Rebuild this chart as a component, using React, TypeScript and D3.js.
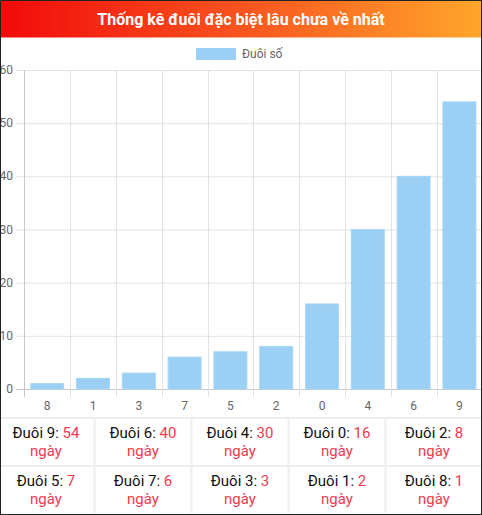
import React from "react";
import * as d3 from "d3";

const TITLE = "Thống kê đuôi đặc biệt lâu chưa về nhất";
const LEGEND_LABEL = "Đuôi số";
const categories = ["8", "1", "3", "7", "5", "2", "0", "4", "6", "9"];
const values = [1, 2, 3, 6, 7, 8, 16, 30, 40, 54];
const yTicks = [0, 10, 20, 30, 40, 50, 60];
const tableRow1 = ["9", "6", "4", "0", "2"];
const tableRow1Vals = [54, 40, 30, 16, 8];
const tableRow2 = ["5", "7", "3", "1", "8"];
const tableRow2Vals = [7, 6, 3, 2, 1];

const W = 482;
const H = 515;
const FONT = "Roboto, 'Noto Sans', sans-serif";
const RED = "#ef3b4f";

export default function App() {
  const x = d3.scaleBand<string>().domain(categories).range([24.3, 482.3]).paddingInner(0).paddingOuter(0);
  const y = d3.scaleLinear().domain([0, 60]).range([389, 70]);
  const bw = x.bandwidth();
  const barW = bw * 0.72;

  const col = d3.scaleBand<number>().domain([0, 1, 2, 3, 4]).range([-2.5, 482.5]);
  const rows = [
    { keys: tableRow1, vals: tableRow1Vals, top: 419, bottom: 465 },
    { keys: tableRow2, vals: tableRow2Vals, top: 467, bottom: 513 },
  ];

  return (
    <div style={{ position: "absolute", left: 0, top: 0, width: W, height: H, background: "#fff" }}>
      <svg width={W} height={H} style={{ display: "block" }} fontFamily={FONT}>
        <defs>
          <linearGradient id="hdr" x1="0" x2="1" y1="0" y2="0">
            <stop offset="0%" stopColor="#f20a0a" />
            <stop offset="50%" stopColor="#f9541f" />
            <stop offset="100%" stopColor="#ffa62b" />
          </linearGradient>
        </defs>
        <rect x={0} y={0} width={W} height={H} fill="#fff" />
        {/* header */}
        <rect x={0} y={0} width={W} height={37.5} fill="url(#hdr)" />
        <text x={W / 2} y={19} textAnchor="middle" dominantBaseline="central" fill="#fff" fontWeight="bold" fontSize={16}>
          {TITLE}
        </text>
        {/* legend */}
        <rect x={196} y={48} width={40} height={12} fill="#9ccff4" />
        <text x={242} y={54} dominantBaseline="central" fill="#666" fontSize={12}>
          {LEGEND_LABEL}
        </text>
        {/* horizontal grid */}
        {yTicks.map((t) => (
          <g key={"y" + t}>
            <line x1={16} x2={482} y1={y(t) + 0.5} y2={y(t) + 0.5} stroke={t === 0 ? "#c8c8c8" : "#e2e2e2"} strokeWidth={1} />
            <text x={13} y={y(t)} textAnchor="end" dominantBaseline="central" fill="#666" fontSize={12}>
              {t}
            </text>
          </g>
        ))}
        {/* vertical grid */}
        {categories.map((c, i) => (
          <line key={"v" + c} x1={Math.round(x(c)!) + 0.5} x2={Math.round(x(c)!) + 0.5} y1={70} y2={397} stroke={i === 0 ? "#c8c8c8" : "#e2e2e2"} strokeWidth={1} />
        ))}
        <line x1={482} x2={482} y1={70} y2={397} stroke="#e2e2e2" />
        {/* bars */}
        {categories.map((c, i) => {
          const cx = x(c)! + bw / 2;
          return (
            <rect
              key={"b" + c}
              x={cx - barW / 2}
              y={y(values[i])}
              width={barW}
              height={y(0) - y(values[i])}
              fill="#9ccff4"
              stroke="#a8d6f6"
              strokeWidth={1}
            />
          );
        })}
        {/* x labels */}
        {categories.map((c) => (
          <text key={"xl" + c} x={x(c)! + bw / 2} y={406} textAnchor="middle" dominantBaseline="central" fill="#666" fontSize={12}>
            {c}
          </text>
        ))}
        {/* table */}
        <rect x={0} y={417} width={W} height={2} fill="#eeeeee" />
        <rect x={0} y={465} width={W} height={2} fill="#eeeeee" />
        {[1, 2, 3, 4].map((k) => (
          <rect key={"cs" + k} x={col(k)! - 1} y={419} width={2} height={94} fill="#eeeeee" />
        ))}
        {rows.map((r, ri) =>
          r.keys.map((k, i) => {
            const cx = col(i)! + col.bandwidth() / 2;
            return (
              <g key={"t" + ri + "-" + i}>
                <text x={cx} y={r.top + 14} textAnchor="middle" dominantBaseline="central" fontSize={15}>
                  <tspan fill="#111">{"Đuôi " + k + ": "}</tspan>
                  <tspan fill={RED}>{r.vals[i]}</tspan>
                </text>
                <text x={cx} y={r.top + 32} textAnchor="middle" dominantBaseline="central" fontSize={15} fill={RED}>
                  ngày
                </text>
              </g>
            );
          })
        )}
        {/* outer border */}
        <rect x={0.5} y={0.5} width={W - 1} height={H - 1} fill="none" stroke="#222" strokeWidth={1} />
      </svg>
    </div>
  );
}
